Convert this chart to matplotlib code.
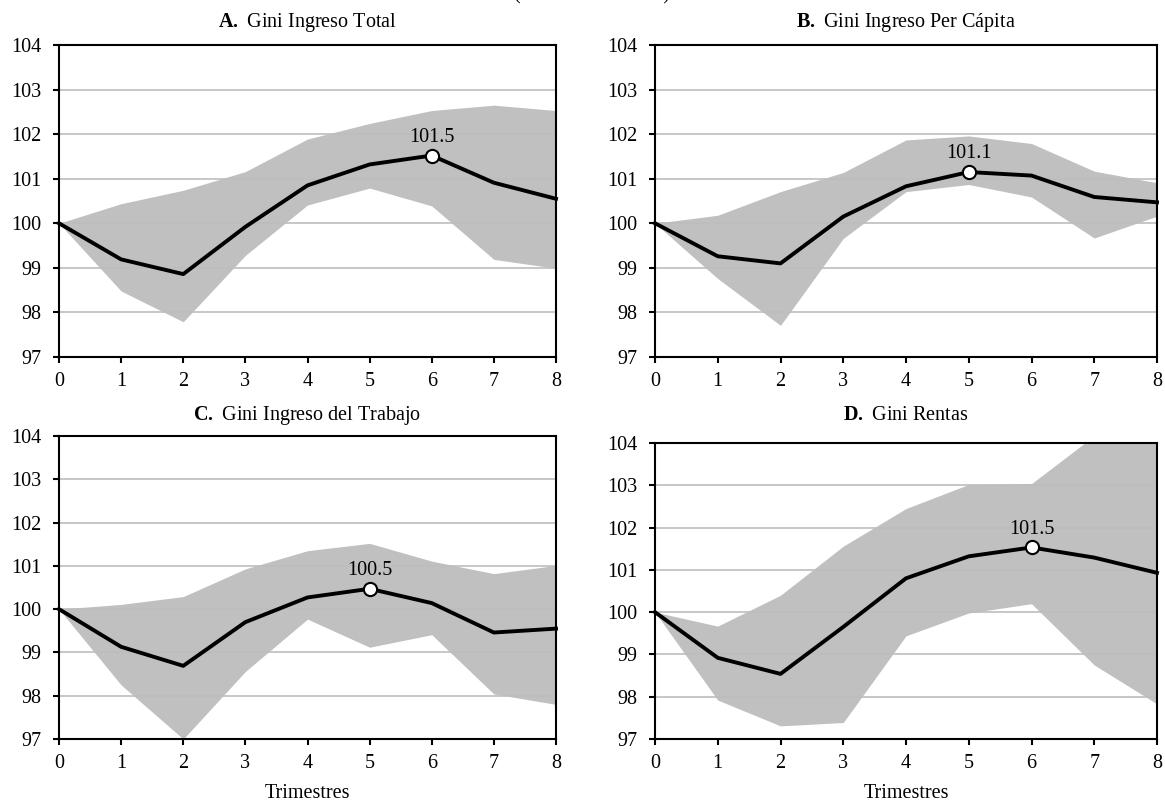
import matplotlib
matplotlib.use("Agg")
import matplotlib.pyplot as plt

plt.rcParams['font.family'] = ['Liberation Serif', 'DejaVu Serif']
plt.rcParams['mathtext.fontset'] = 'custom'
plt.rcParams['mathtext.rm'] = 'Liberation Serif'
plt.rcParams['mathtext.bf'] = 'Liberation Serif:bold'

# trimestres
trimestres = [0, 1, 2, 3, 4, 5, 6, 7, 8]

# A. Gini ingreso total
a_resp = [100, 99.19, 98.86, 99.92, 100.85, 101.32, 101.52, 100.91, 100.55]
a_sup = [100, 100.44, 100.74, 101.16, 101.89, 102.24, 102.53, 102.65, 102.53]
a_inf = [100, 98.48, 97.79, 99.28, 100.41, 100.79, 100.39, 99.19, 98.99]

# B. Gini ingreso per capita
b_resp = [100, 99.26, 99.10, 100.15, 100.83, 101.15, 101.07, 100.59, 100.47]
b_sup = [100, 100.18, 100.71, 101.14, 101.87, 101.96, 101.79, 101.17, 100.91]
b_inf = [100, 98.76, 97.71, 99.66, 100.71, 100.87, 100.59, 99.67, 100.16]

# C. Gini ingreso del trabajo
c_resp = [100, 99.13, 98.69, 99.70, 100.27, 100.47, 100.14, 99.46, 99.55]
c_sup = [100, 100.11, 100.29, 100.93, 101.35, 101.52, 101.11, 100.82, 101.01]
c_inf = [100, 98.25, 97.00, 98.56, 99.77, 99.12, 99.41, 98.04, 97.80]

# D. Gini rentas
d_resp = [100, 98.92, 98.54, 99.65, 100.80, 101.32, 101.53, 101.29, 100.93]
d_sup = [100, 99.67, 100.40, 101.56, 102.45, 103.02, 103.04, 104.17, 104.60]
d_inf = [100, 97.92, 97.31, 97.39, 99.44, 99.98, 100.20, 98.75, 97.83]

paneles = [
    ("A.", "Gini Ingreso Total", a_resp, a_sup, a_inf, 6, "101.5"),
    ("B.", "Gini Ingreso Per Cápita", b_resp, b_sup, b_inf, 5, "101.1"),
    ("C.", "Gini Ingreso del Trabajo", c_resp, c_sup, c_inf, 5, "100.5"),
    ("D.", "Gini Rentas", d_resp, d_sup, d_inf, 6, "101.5"),
]

W, H = 1165, 807
# posiciones en pixeles: izquierda, derecha, arriba, abajo
cajas = [(59, 556, 45, 357), (655, 1157, 45, 357),
         (59, 556, 436, 739), (655, 1157, 443, 739)]
pads = [13, 13, 11.5, 16.5]
fs = 14.5

fig = plt.figure(figsize=(W / 100, H / 100), dpi=100)

# subtitulo general, cortado en el borde superior como en el original
fig.text(592 / W, 1 + 1.5 / H, "(Índice base = 100)", ha='center', va='baseline',
         fontsize=fs)

for i, (letra, titulo, resp, sup, inf, pico, etiqueta) in enumerate(paneles):
    l, r, t, b = cajas[i]
    ax = fig.add_axes([l / W, 1 - b / H, (r - l) / W, (b - t) / H])
    ax.fill_between(trimestres, inf, sup, color='#c0c0c0', lw=0, zorder=0.3)
    ax.set_axisbelow(True)
    ax.grid(axis='y', color='#bdbdbd', lw=1.2)
    ax.plot(trimestres, resp, color='black', lw=2.8, zorder=3, clip_on=False)
    ax.plot(trimestres[pico], resp[pico], 'o', ms=9.5, mfc='white', mec='black',
            mew=1.5, zorder=4)
    ax.annotate(etiqueta, (trimestres[pico], resp[pico]), xytext=(0, 10),
                textcoords='offset points', ha='center', va='baseline', fontsize=fs)
    ax.set_xlim(0, 8)
    ax.set_ylim(97, 104)
    ax.set_xticks(trimestres)
    ax.set_yticks(range(97, 105))
    ax.tick_params(labelsize=fs, length=4.5, width=1.5, direction='out')
    ax.tick_params(axis='x', pad=6)
    ax.tick_params(axis='y', pad=8)
    for s in ax.spines.values():
        s.set_linewidth(1.5)
    ax.set_title(r"$\mathbf{" + letra + "}$ " + titulo, fontsize=fs, pad=pads[i])
    if i >= 2:
        ax.set_xlabel("Trimestres", fontsize=fs, labelpad=8)

fig.savefig("out.png", dpi=100)
